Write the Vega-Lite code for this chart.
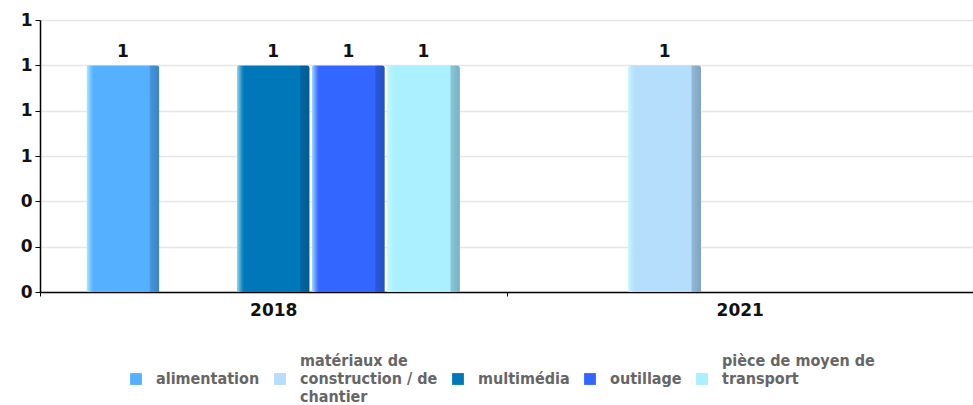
{
  "$schema": "https://vega.github.io/schema/vega-lite/v6.json",
  "autosize": {"type": "none"},
  "padding": {"left": 40, "top": 20, "right": 0, "bottom": 113},
  "width": 933,
  "height": 272,
  "background": "white",
  "data": {
    "values": [
      {"year": "2018", "category": "alimentation", "count": 1},
      {"year": "2018", "category": "multimédia", "count": 1},
      {"year": "2018", "category": "outillage", "count": 1},
      {"year": "2018", "category": "pièce de moyen de transport", "count": 1},
      {"year": "2021", "category": "matériaux de construction / de chantier", "count": 1}
    ]
  },
  "encoding": {
    "x": {
      "field": "year", "type": "nominal",
      "scale": {"paddingInner": 0, "paddingOuter": 0},
      "axis": {
        "title": null, "labelAngle": 0, "domainColor": "#000", "domainWidth": 1.5,
        "tickColor": "#000", "tickSize": 4, "tickBand": "extent", "grid": false,
        "labelFont": "DejaVu Sans", "labelFontWeight": "bold", "labelFontSize": 17,
        "labelColor": "#111", "labelPadding": 6
      }
    },
    "xOffset": {
      "field": "category", "type": "nominal",
      "scale": {
        "domain": ["alimentation", "matériaux de construction / de chantier", "multimédia", "outillage", "pièce de moyen de transport"],
        "paddingInner": 0.03, "paddingOuter": 0.62
      }
    },
    "y": {
      "field": "count", "type": "quantitative",
      "scale": {"domain": [0, 1.2], "nice": false},
      "axis": {
        "title": null, "values": [0, 0.2, 0.4, 0.6, 0.8, 1.0, 1.2], "format": ".0f",
        "domainColor": "#000", "domainWidth": 1.5, "tickColor": "#000", "tickSize": 5,
        "gridColor": "#e6e6e6", "gridWidth": 1.5,
        "labelFont": "DejaVu Sans", "labelFontWeight": "bold", "labelFontSize": 17,
        "labelColor": "#111", "labelPadding": 3
      }
    }
  },
  "layer": [
    {
      "mark": {"type": "bar", "cornerRadiusTopLeft": 3, "cornerRadiusTopRight": 3},
      "encoding": {
        "color": {
          "field": "category", "type": "nominal",
          "scale": {
            "domain": ["alimentation", "matériaux de construction / de chantier", "multimédia", "outillage", "pièce de moyen de transport"],
            "range": ["#55b0ff", "#b5defc", "#0077b8", "#3366ff", "#aaf0ff"]
          },
          "legend": {
            "title": null, "orient": "none", "direction": "horizontal",
            "legendX": 88, "legendY": 351, "padding": 0,
            "symbolType": "square", "symbolSize": 140, "symbolStrokeWidth": 0,
            "labelFont": "DejaVu Sans Condensed", "labelFontWeight": "bold", "labelFontSize": 16,
            "labelColor": "#666", "labelLimit": 300, "columnPadding": 12, "labelOffset": 12,
            "labelExpr": "datum.label == 'matériaux de construction / de chantier' ? ['matériaux de', 'construction / de', 'chantier'] : datum.label == 'pièce de moyen de transport' ? ['pièce de moyen de', 'transport', ''] : ['', datum.label, '']",
            "encode": {
              "labels": {
                "update": {
                  "dy": {"value": -18}
                }
              }
            }
          }
        }
      }
    },
    {
      "mark": {
        "type": "bar", "cornerRadiusTopLeft": 3, "cornerRadiusTopRight": 3,
        "color": {
          "gradient": "linear", "x1": 0, "x2": 1, "y1": 0, "y2": 0,
          "stops": [
            {"offset": 0, "color": "rgba(200,255,255,0.75)"},
            {"offset": 0.07, "color": "rgba(200,255,255,0.15)"},
            {"offset": 0.1, "color": "rgba(255,255,255,0)"},
            {"offset": 0.86, "color": "rgba(0,0,0,0)"},
            {"offset": 0.88, "color": "rgba(0,30,60,0.2)"},
            {"offset": 1, "color": "rgba(0,30,60,0.3)"}
          ]
        }
      },
      "encoding": {}
    },
    {
      "mark": {"type": "text", "dy": -13, "font": "DejaVu Sans", "fontWeight": "bold", "fontSize": 17, "color": "#111"},
      "encoding": {"text": {"field": "count", "type": "quantitative"}}
    }
  ]
}
